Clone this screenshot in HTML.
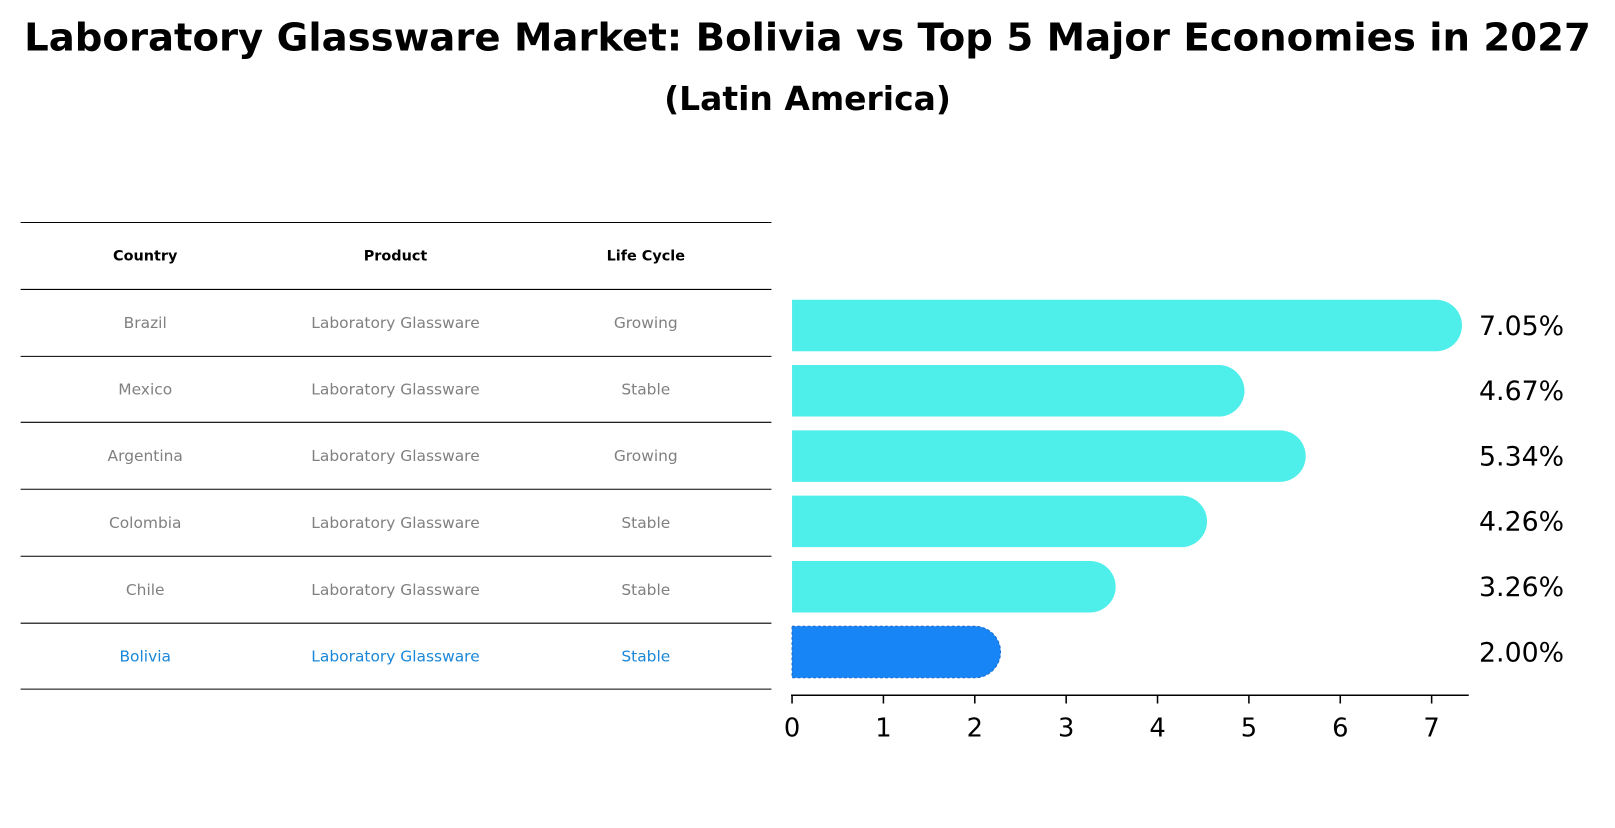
<!DOCTYPE html>
<html><head><meta charset="utf-8"><style>
body{margin:0;background:#fff;font-family:"Liberation Sans","DejaVu Sans",sans-serif}
</style></head><body>
<svg width="1615" height="823" viewBox="0 0 1568 799" preserveAspectRatio="none" xmlns="http://www.w3.org/2000/svg">
<text x="784" y="49" text-anchor="middle" font-size="37.5" font-weight="bold" font-family="DejaVu Sans, sans-serif">Laboratory Glassware Market: Bolivia vs Top 5 Major Economies in 2027</text>
<text x="784" y="107" text-anchor="middle" font-size="32" font-weight="bold" font-family="DejaVu Sans, sans-serif">(Latin America)</text>
<g id="table"></g>
<g id="bars"></g>
<g id="axis"></g>
</svg>
<script>
const countries=["Brazil","Mexico","Argentina","Colombia","Chile","Bolivia"];
const products=["Laboratory Glassware","Laboratory Glassware","Laboratory Glassware","Laboratory Glassware","Laboratory Glassware","Laboratory Glassware"];
const lifeCycle=["Growing","Stable","Growing","Stable","Stable","Stable"];
const values=[7.05,4.67,5.34,4.26,3.26,2.00];
const ticks=[0,1,2,3,4,5,6,7];
const NS="http://www.w3.org/2000/svg";
function mk(t,a,p){const e=document.createElementNS(NS,t);for(const k in a)e.setAttribute(k,a[k]);p.appendChild(e);return e;}
const x=v=>769+v*88.71;
const rowY=i=>316+i*63.4;
const tbl=document.getElementById('table');
const lines=[216,281,346,410,475,540,605,669];
lines.forEach((y,i)=>{const l=mk('line',{x1:20,x2:749,y1:y,y2:y,stroke:'#000','stroke-width':1},tbl);

});
const cols=[141,384,627];
["Country","Product","Life Cycle"].forEach((h,j)=>{const t=mk('text',{x:cols[j],y:253,'text-anchor':'middle','font-size':14,'font-weight':'bold','font-family':'DejaVu Sans, sans-serif'},tbl);t.textContent=h;

});
countries.forEach((c,i)=>{const yy=(lines[i+1]+lines[i+2])/2+5;const col=i===5?'#1a87d8':'#808080';
[c,products[i],lifeCycle[i]].forEach((s,j)=>{const t=mk('text',{x:cols[j],y:yy,'text-anchor':'middle','font-size':15,fill:col,'font-family':'DejaVu Sans, sans-serif'},tbl);t.textContent=s;

});});
const bars=document.getElementById('bars');
const h=50,r=25;
values.forEach((v,i)=>{const cy=rowY(i);const col=i===5?'#1785f5':'#4eeeeb';
const g=mk('g',{},bars);


mk('path',{d:`M${x(0)},${cy-h/2} H${x(v)} A${r},${r} 0 0 1 ${x(v)},${cy+h/2} H${x(0)} Z`,fill:col,stroke:i===5?'#1a6fd0':'none','stroke-dasharray':'3 2','stroke-width':1},g);
const t=mk('text',{x:1436,y:cy+9,'font-size':26,'font-family':'DejaVu Sans, sans-serif'},bars);t.textContent=v.toFixed(2)+'%';

});
const ax=document.getElementById('axis');
mk('line',{x1:768,x2:1426,y1:675,y2:675,stroke:'#000','stroke-width':1.5},ax);
ticks.forEach(v=>{mk('line',{x1:x(v),x2:x(v),y1:675,y2:683,stroke:'#000','stroke-width':1.5},ax);
const t=mk('text',{x:x(v),y:715,'text-anchor':'middle','font-size':25,'font-family':'DejaVu Sans, sans-serif'},ax);t.textContent=v;

});
</script>
</body></html>
